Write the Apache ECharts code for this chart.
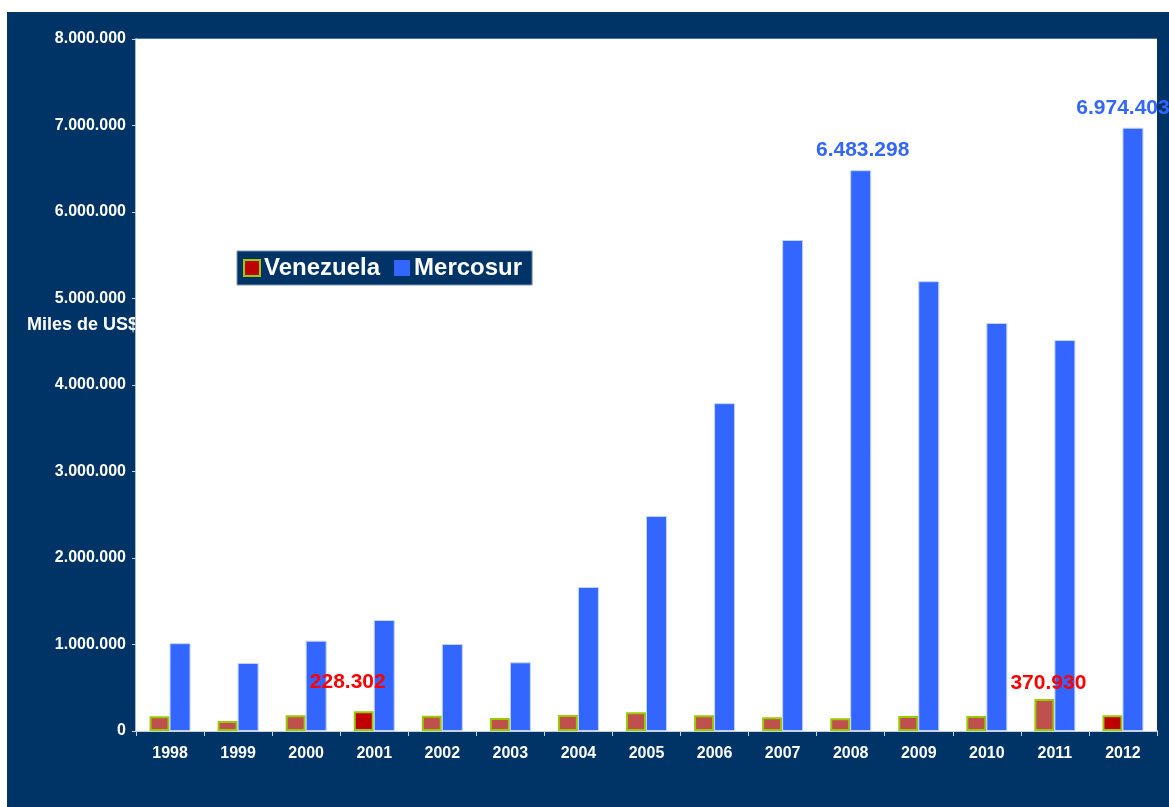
<!DOCTYPE html>
<html>
<head>
<meta charset="utf-8">
<script src="https://cdn.jsdelivr.net/npm/echarts@6/dist/echarts.min.js"></script>
<style>
html,body{margin:0;padding:0;background:#ffffff;width:1169px;height:807px;overflow:hidden;}
#chart{position:absolute;left:7px;top:12px;width:1162px;height:795px;}
</style>
</head>
<body>
<div id="chart"></div>
<script>
const years = ['1998','1999','2000','2001','2002','2003','2004','2005','2006','2007','2008','2009','2010','2011','2012'];
const venezuela = [170000, 116000, 181000, 228302, 177000, 150000, 185000, 216000, 181000, 159000, 147000, 173000, 173000, 370930, 181000];
const mercosur = [1015000, 786000, 1044000, 1283000, 1006000, 794000, 1665000, 2486000, 3790000, 5676000, 6483298, 5200000, 4717000, 4520000, 6974403];
const venezuelaHighlight = ['2001', '2012'];
const venezuelaLabels = {'2001': [-16, -14], '2011': [4, 0]};
const mercosurLabels = {'2008': [2, 0], '2012': [-10, 0]};
const yTicks = {min: 0, max: 8000000, interval: 1000000};

const FONT = 'Liberation Sans, Arial, sans-serif';
function fmt(v){ return String(Math.round(v)).replace(/\B(?=(\d{3})+(?!\d))/g, '.'); }

const venData = venezuela.map((v, i) => {
  const y = years[i];
  const d = {value: v, itemStyle: {color: venezuelaHighlight.includes(y) ? '#C00000' : '#C0504D'}};
  if (venezuelaLabels[y]) {
    d.label = {show: true, position: 'top', offset: venezuelaLabels[y], formatter: p => fmt(p.value),
      color: '#FF0000', fontSize: 21, fontWeight: 'bold', fontFamily: FONT};
  }
  return d;
});
const merData = mercosur.map((v, i) => {
  const y = years[i];
  const d = {value: v};
  if (mercosurLabels[y]) {
    d.label = {show: true, position: 'top', distance: 9, offset: mercosurLabels[y], formatter: p => fmt(p.value),
      color: '#3366FF', fontSize: 21, fontWeight: 'bold', fontFamily: FONT};
  }
  return d;
});

const chart = echarts.init(document.getElementById('chart'), null, {renderer: 'canvas'});
chart.setOption({
  backgroundColor: '#003366',
  animation: false,
  title: {
    text: 'Miles de US$', left: 15, top: 299, z: -1, zlevel: 0,
    textStyle: {color: '#ffffff', fontSize: 18, fontWeight: 'bold', fontFamily: FONT}
  },
  legend: {
    left: 230, top: 239, orient: 'horizontal',
    backgroundColor: '#003366', borderColor: '#7f96b2', borderWidth: 1,
    padding: [5, 10, 5, 6], itemWidth: 16, itemHeight: 16, itemGap: 14,
    textStyle: {color: '#ffffff', fontSize: 24, fontWeight: 'bold', fontFamily: FONT, padding: [0, 0, 0, -1]},
    data: [
      {name: 'Venezuela', icon: 'rect', itemStyle: {color: '#C00000', borderColor: '#99CC00', borderWidth: 2}},
      {name: 'Mercosur', icon: 'rect', itemStyle: {color: '#3366FF', borderWidth: 0}}
    ]
  },
  grid: {
    show: true, backgroundColor: '#ffffff', borderWidth: 0, z: 2,
    left: 129, top: 27, right: 12, bottom: 76, containLabel: false
  },
  xAxis: {
    type: 'category', data: years,
    axisLine: {show: true, lineStyle: {color: '#c9d3df', width: 2}},
    axisTick: {show: true, alignWithLabel: false, length: 5, lineStyle: {color: '#c9d3df', width: 1}},
    axisLabel: {color: '#ffffff', fontSize: 16, fontWeight: 'bold', fontFamily: FONT, margin: 15}
  },
  yAxis: {
    type: 'value', min: yTicks.min, max: yTicks.max, interval: yTicks.interval,
    axisLine: {show: true, lineStyle: {color: '#aab7c8', width: 2}},
    axisTick: {show: true, length: 4, lineStyle: {color: '#c9d3df'}},
    splitLine: {show: true, lineStyle: {color: '#6f89a8', width: 1.5}},
    axisLabel: {color: '#ffffff', fontSize: 16, fontWeight: 'bold', fontFamily: FONT, margin: 10,
      formatter: v => fmt(v)}
  },
  series: [
    {name: 'Venezuela', type: 'bar', data: venData, barWidth: 20, barGap: '0%', z: 3,
      itemStyle: {color: '#C00000', borderColor: '#99CC00', borderWidth: 2}},
    {name: 'Mercosur', type: 'bar', data: merData, barWidth: 21, z: 3,
      itemStyle: {color: '#3366FF', borderColor: '#c5d3ff', borderWidth: 1}}
  ]
});
</script>
</body>
</html>
